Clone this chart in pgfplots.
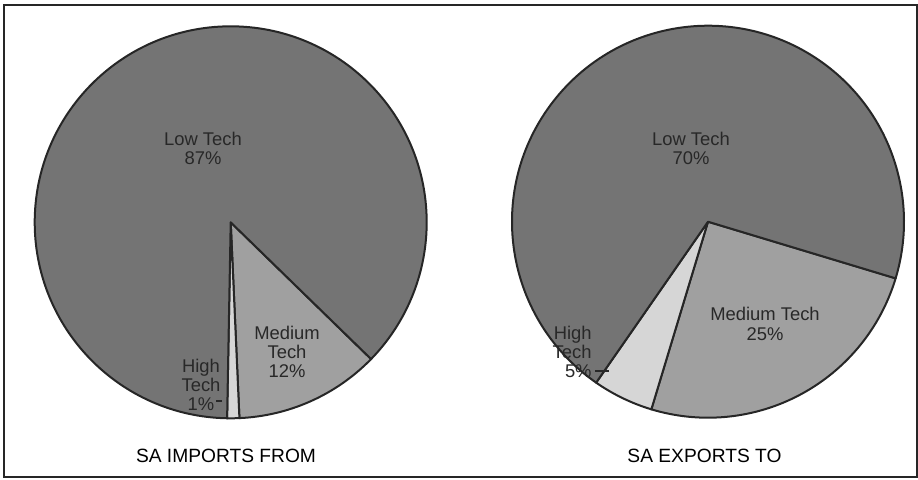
\documentclass[border=0pt]{standalone}
\usepackage{pgfplots}
\usepackage{pgfplotstable}
\pgfplotsset{compat=1.18}
\usepackage{fontspec}
\setmainfont{Liberation Sans}

\definecolor{lowgray}{RGB}{116,116,116}
\definecolor{medgray}{RGB}{160,160,160}
\definecolor{highgray}{RGB}{214,214,214}
\definecolor{labelink}{RGB}{40,40,40}

% shares of trade by technology level (per cent)
\pgfplotstableread{
sector share
Medium 12
High 1
Low 87
}\importsdata
\pgfplotstableread{
sector share
Medium 25
High 5
Low 70
}\exportsdata

% slice boundaries: slices run clockwise from a start angle, 1% = 3.6 degrees
\pgfplotstablegetelem{0}{share}\of\importsdata \let\impMed\pgfplotsretval
\pgfplotstablegetelem{1}{share}\of\importsdata \let\impHigh\pgfplotsretval
\pgfplotstablegetelem{2}{share}\of\importsdata \let\impLow\pgfplotsretval
\pgfplotstablegetelem{0}{share}\of\exportsdata \let\expMed\pgfplotsretval
\pgfplotstablegetelem{1}{share}\of\exportsdata \let\expHigh\pgfplotsretval
\pgfplotstablegetelem{2}{share}\of\exportsdata \let\expLow\pgfplotsretval

\pgfmathsetmacro\impA{-44.25}
\pgfmathsetmacro\impB{\impA-3.6*\impMed}
\pgfmathsetmacro\impC{\impB-3.6*\impHigh}
\pgfmathsetmacro\impD{\impC-3.6*\impLow}
\pgfmathsetmacro\expA{-16.8}
\pgfmathsetmacro\expB{\expA-3.6*\expMed}
\pgfmathsetmacro\expC{\expB-3.6*\expHigh}
\pgfmathsetmacro\expD{\expC-3.6*\expLow}

\def\pieR{98pt}

\begin{document}
\begin{tikzpicture}
\begin{axis}[
  x=0.5pt, y=0.5pt, y dir=reverse,
  xmin=0, xmax=918, ymin=0, ymax=479,
  anchor=south west, at={(0,0)},
  hide axis, clip=false,
]
% outer frame
\draw[line width=0.8pt, black!85] (axis cs:4,5) rectangle (axis cs:917,477);

% ---- imports pie ----
\begin{scope}[draw=black!85, line width=1pt, line join=round]
\filldraw[fill=medgray] (axis cs:230.7,222.3) -- ++(\impA:\pieR)
  arc[start angle=\impA, end angle=\impB, radius=\pieR] -- cycle;
\filldraw[fill=highgray] (axis cs:230.7,222.3) -- ++(\impB:\pieR)
  arc[start angle=\impB, end angle=\impC, radius=\pieR] -- cycle;
\filldraw[fill=lowgray] (axis cs:230.7,222.3) -- ++(\impC:\pieR)
  arc[start angle=\impC, end angle=\impD, radius=\pieR] -- cycle;
\end{scope}

% ---- exports pie ----
\begin{scope}[draw=black!85, line width=1pt, line join=round]
\filldraw[fill=medgray] (axis cs:708,221.7) -- ++(\expA:\pieR)
  arc[start angle=\expA, end angle=\expB, radius=\pieR] -- cycle;
\filldraw[fill=highgray] (axis cs:708,221.7) -- ++(\expB:\pieR)
  arc[start angle=\expB, end angle=\expC, radius=\pieR] -- cycle;
\filldraw[fill=lowgray] (axis cs:708,221.7) -- ++(\expC:\pieR)
  arc[start angle=\expC, end angle=\expD, radius=\pieR] -- cycle;
\end{scope}

% slice labels
\begin{scope}[every node/.style={align=center, text=labelink,
    font=\fontsize{9.2}{9.5}\selectfont, inner sep=0pt}]
\node at (axis cs:203,148) {Low Tech\\\impLow\%};
\node at (axis cs:287,352) {Medium\\Tech\\\impMed\%};
\node at (axis cs:201,385) {High\\Tech\\\impHigh\%};
\node at (axis cs:691,148) {Low Tech\\\expLow\%};
\node[font=\fontsize{9.2}{10.4}\selectfont] at (axis cs:765,324) {Medium Tech\\\expMed\%};
\node[align=right, anchor=east] at (axis cs:592,352) {High\\Tech\\\expHigh\%};
\end{scope}
% leader ticks
\draw[labelink, line width=0.6pt] (axis cs:216,401) -- (axis cs:222,401);
\draw[labelink, line width=0.6pt] (axis cs:595,371) -- (axis cs:609,371);

% titles
\node[font=\fontsize{9.6}{11}\selectfont] at (axis cs:226,456) {SA IMPORTS FROM};
\node[font=\fontsize{9.6}{11}\selectfont] at (axis cs:704.5,456) {SA EXPORTS TO};
\end{axis}
\pgfresetboundingbox
\useasboundingbox (0,0) rectangle (459pt,239.5pt);
\end{tikzpicture}
\end{document}
